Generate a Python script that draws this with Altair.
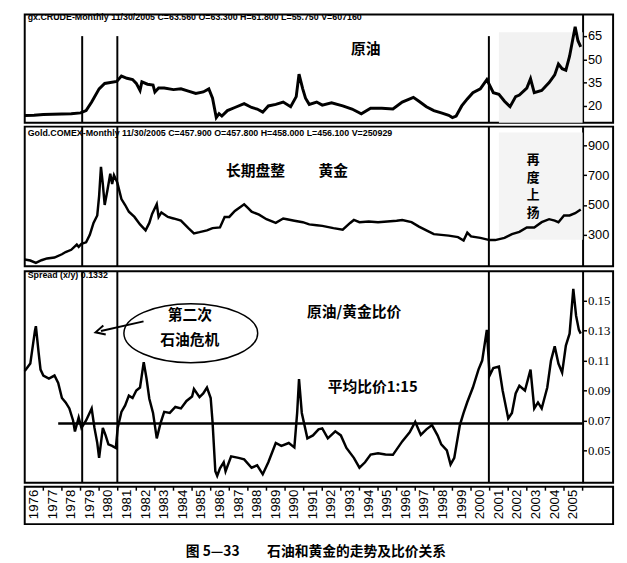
import altair as alt
import pandas as pd

# ---------------- data ----------------
oil_years = [1976.0, 1976.5, 1977.0, 1977.5, 1978.0, 1978.5, 1979.0, 1979.3, 1979.6, 1980.0,
             1980.3, 1980.95, 1981.2, 1981.5, 1981.8, 1982.0, 1982.2, 1982.3, 1982.6, 1982.9,
             1983.0, 1983.2, 1983.5, 1984.0, 1984.4, 1984.8, 1985.2, 1985.6, 1985.9, 1986.1,
             1986.3, 1986.45, 1986.6, 1986.9, 1987.3, 1987.8, 1988.2, 1988.5, 1988.8, 1989.1,
             1989.5, 1989.9, 1990.3, 1990.6, 1990.75, 1990.95, 1991.1, 1991.3, 1991.7, 1992.0,
             1992.5, 1993.1, 1993.6, 1994.1, 1994.6, 1995.2, 1995.8, 1996.3, 1996.9, 1997.2,
             1997.6, 1998.0, 1998.4, 1998.8, 1999.0, 1999.2, 1999.5, 1999.8, 2000.1, 2000.5,
             2000.85, 2001.2, 2001.5, 2001.8, 2002.1, 2002.4, 2002.6, 2003.0, 2003.2, 2003.4,
             2003.8, 2004.2, 2004.5, 2004.7, 2004.9, 2005.1, 2005.3, 2005.6, 2005.75, 2005.9]
oil_values = [13.8, 14.0, 14.5, 14.6, 14.8, 15.0, 15.5, 17.0, 22.5, 31.0,
              34.5, 35.8, 39.2, 37.8, 37.0, 34.5, 30.0, 35.5, 34.0, 33.5,
              28.9, 31.5, 31.5, 30.5, 31.0, 29.5, 28.0, 29.0, 31.0, 25.0,
              12.5, 15.0, 13.5, 17.0, 19.0, 21.5, 19.0, 18.0, 16.0, 20.0,
              21.0, 22.5, 19.5, 26.0, 40.5, 31.0, 25.0, 21.0, 22.5, 20.5,
              22.0, 20.0, 18.0, 15.0, 18.5, 18.5, 18.0, 22.5, 25.5, 23.0,
              19.5, 17.0, 15.5, 14.0, 12.5, 13.5, 20.0, 24.5, 28.5, 31.0,
              37.0, 28.5, 27.5, 23.0, 19.5, 26.0, 27.0, 31.5, 37.5, 28.5,
              30.0, 35.0, 40.0, 47.0, 44.0, 43.0, 52.0, 71.0, 62.0, 58.0]

gold_years = [1976.0, 1976.3, 1976.6, 1976.9, 1977.2, 1977.6, 1978.0, 1978.2, 1978.5, 1978.8,
              1978.9, 1979.05, 1979.3, 1979.5, 1979.7, 1979.9, 1980.0, 1980.1, 1980.2, 1980.3,
              1980.45, 1980.6, 1980.7, 1980.8, 1980.98, 1981.2, 1981.4, 1981.6, 1981.9, 1982.2,
              1982.5, 1982.7, 1982.85, 1983.1, 1983.2, 1983.35, 1983.7, 1984.0, 1984.4, 1984.8,
              1985.1, 1985.4, 1985.8, 1986.1, 1986.5, 1986.75, 1987.0, 1987.3, 1987.8, 1988.0,
              1988.2, 1988.6, 1989.0, 1989.5, 1989.9, 1990.1, 1990.5, 1990.95, 1991.3, 1991.7,
              1992.0, 1992.6, 1993.1, 1993.5, 1993.7, 1994.0, 1994.5, 1995.0, 1995.5, 1996.0,
              1996.3, 1996.8, 1997.2, 1997.6, 1998.0, 1998.4, 1998.8, 1999.3, 1999.6, 1999.8,
              2000.0, 2000.5, 2001.0, 2001.3, 2001.8, 2002.2, 2002.6, 2003.0, 2003.4, 2003.8,
              2004.2, 2004.5, 2004.7, 2005.0, 2005.3, 2005.6, 2005.9]
gold_values = [135, 128, 112, 130, 142, 148, 170, 185, 200, 235,
               220, 240, 250, 300, 380, 430, 560, 755, 640, 500,
               600, 710, 640, 700, 650, 540, 500, 455, 420, 370,
               330, 380, 440, 505, 420, 450, 420, 410, 395, 345,
               310, 318, 330, 345, 350, 420, 420, 460, 505, 480,
               455, 435, 405, 380, 410, 405, 395, 385, 370, 365,
               360, 345, 335, 380, 400, 385, 390, 385, 390, 395,
               400, 385, 355, 330, 305, 300, 295, 285, 262, 315,
               290, 280, 265, 265, 280, 305, 320, 350, 350, 385,
               405, 395, 385, 430, 430, 445, 470]

ratio_years = [1976.0, 1976.3, 1976.55, 1976.6, 1976.75, 1976.85, 1977.0, 1977.3, 1977.6, 1977.8,
               1978.0, 1978.2, 1978.4, 1978.6, 1978.7, 1978.9, 1979.05, 1979.3, 1979.6, 1979.75,
               1979.9, 1980.0, 1980.1, 1980.2, 1980.35, 1980.5, 1980.7, 1980.9, 1981.0, 1981.2,
               1981.4, 1981.6, 1981.8, 1982.0, 1982.2, 1982.4, 1982.55, 1982.7, 1982.9, 1983.1,
               1983.3, 1983.5, 1983.8, 1984.1, 1984.4, 1984.7, 1985.0, 1985.1, 1985.4, 1985.6,
               1985.8, 1986.0, 1986.1, 1986.25, 1986.35, 1986.5, 1986.7, 1986.8, 1987.1, 1987.5,
               1987.8, 1988.2, 1988.5, 1988.8, 1989.1, 1989.5, 1989.8, 1990.2, 1990.5, 1990.65,
               1990.75, 1990.9, 1991.2, 1991.5, 1991.8, 1992.0, 1992.3, 1992.7, 1993.0, 1993.3,
               1993.7, 1994.0, 1994.3, 1994.6, 1995.0, 1995.4, 1995.8, 1996.3, 1996.7, 1997.0,
               1997.3, 1997.6, 1997.9, 1998.2, 1998.4, 1998.7, 1998.9, 1999.1, 1999.4, 1999.6,
               1999.8, 2000.1, 2000.4, 2000.6, 2000.85, 2001.0, 2001.2, 2001.5, 2001.7, 2002.0,
               2002.2, 2002.4, 2002.6, 2002.9, 2003.2, 2003.4, 2003.6, 2003.8, 2004.1, 2004.3,
               2004.5, 2004.7, 2004.9, 2005.1, 2005.3, 2005.5, 2005.65, 2005.8, 2005.9]
ratio_values = [0.103, 0.108, 0.130, 0.133, 0.115, 0.104, 0.100, 0.098, 0.100, 0.095,
                0.085, 0.082, 0.078, 0.070, 0.0626, 0.072, 0.065, 0.070, 0.078, 0.065,
                0.055, 0.045, 0.055, 0.065, 0.060, 0.054, 0.053, 0.0516, 0.065, 0.0757,
                0.080, 0.0866, 0.085, 0.090, 0.092, 0.109, 0.098, 0.0845, 0.075, 0.058,
                0.068, 0.0757, 0.075, 0.079, 0.078, 0.083, 0.086, 0.091, 0.0856, 0.088,
                0.092, 0.085, 0.069, 0.036, 0.033, 0.038, 0.042, 0.036, 0.046, 0.045,
                0.044, 0.0384, 0.040, 0.034, 0.042, 0.0549, 0.053, 0.0549, 0.052, 0.075,
                0.0976, 0.075, 0.058, 0.060, 0.064, 0.0647, 0.058, 0.0627, 0.060, 0.0516,
                0.045, 0.0384, 0.042, 0.0472, 0.048, 0.0472, 0.047, 0.056, 0.062, 0.069,
                0.0603, 0.064, 0.0669, 0.060, 0.054, 0.050, 0.0406, 0.045, 0.0669, 0.075,
                0.0823, 0.092, 0.104, 0.110, 0.1305, 0.100, 0.105, 0.106, 0.090, 0.0713,
                0.075, 0.088, 0.0932, 0.090, 0.104, 0.078, 0.082, 0.078, 0.092, 0.110,
                0.1195, 0.108, 0.102, 0.120, 0.128, 0.158, 0.140, 0.1305, 0.128]

year_labels = list(range(1976, 2006))
label_text = [str(y) for y in year_labels]
event_years = [1979.09, 1980.98, 2000.96]
avg_ratio = 0.068
avg_ratio_span = [1977.8, 2006.0]

oil_ticks = [20, 35, 50, 65]
gold_ticks = [300, 500, 700, 900]
ratio_ticks = [0.05, 0.07, 0.09, 0.11, 0.13, 0.15]

header_oil = "gx.CRUDE-Monthly  11/30/2005  C=63.560  O=63.300  H=61.800  L=55.750  V=607160"
header_gold = "Gold.COMEX-Monthly  11/30/2005  C=457.900  O=457.800  H=458.000  L=456.100  V=250929"
header_ratio = "Spread (x/y)  0.1332"
caption = "图 5—33\u3000\u3000石油和黄金的走势及比价关系"

# ---------------- layout ----------------
W = 598
H1, H2, H3, H4 = 110, 142, 215, 38
X_DOMAIN = [1976.0, 2007.64]
CJK = "Noto Sans CJK SC"
NARROW = "Liberation Sans Narrow, Liberation Sans, Arial"

xs = alt.Scale(domain=X_DOMAIN, nice=False, zero=False)


def xenc(field="year"):
    return alt.X(f"{field}:Q", scale=xs, axis=None)


def yenc(domain, ticks, font, fmt=None, field="v"):
    ax = dict(orient="right", offset=-(W - 567), values=ticks, tickSize=4,
              tickColor="black", tickWidth=1.5, domain=True, domainColor="black",
              domainWidth=2, labelFont=font, labelFontSize=13, labelColor="black",
              labelPadding=1, grid=False, title=None, labelFlush=False)
    if fmt:
        ax["format"] = fmt
    return alt.Y(f"{field}:Q", scale=alt.Scale(domain=domain, nice=False, zero=False),
                 axis=alt.Axis(**ax))


def header(text, ypix):
    return alt.Chart(pd.DataFrame({"t": [text]})).mark_text(
        align="left", baseline="middle", font=NARROW, fontSize=9, fontWeight="bold",
        color="black").encode(x=alt.value(3), y=alt.value(ypix), text="t:N")


def event_rules(top, h):
    return alt.Chart(pd.DataFrame({"year": event_years})).mark_rule(
        color="black", strokeWidth=2).encode(x=xenc(), y=alt.value(top), y2=alt.value(h))


def notes(df, dom, ticks, font, fmt=None, size=15):
    return alt.Chart(df).mark_text(font=CJK, fontSize=size, fontWeight="bold",
                                   color="black").encode(
        x=xenc(), y=yenc(dom, ticks, font, fmt), text="t:N")


# ---- panel 1 : crude oil ----
OIL_DOM = [9.2, 78.9]
oil_df = pd.DataFrame({"year": oil_years, "v": oil_values})
shade1 = alt.Chart(pd.DataFrame({"year": [2001.5], "year2": [2006.0]})).mark_rect(
    color="#f2f2f2").encode(x=xenc(), x2="year2:Q", y=alt.value(18), y2=alt.value(H1))
oil_line = alt.Chart(oil_df).mark_line(color="black", strokeWidth=3).encode(
    x=xenc(), y=yenc(OIL_DOM, oil_ticks, NARROW))
oil_note = notes(pd.DataFrame({"year": [1994.34], "v": [56.8], "t": ["原油"]}),
                 OIL_DOM, oil_ticks, NARROW)
p1 = alt.layer(shade1, event_rules(22, H1), oil_line, oil_note,
               header(header_oil, 3)).properties(width=W, height=H1)

# ---- panel 2 : gold ----
GOLD_DOM = [89, 1025]
gold_df = pd.DataFrame({"year": gold_years, "v": gold_values})
shade2 = alt.Chart(pd.DataFrame({"year": [2001.5], "year2": [2006.0]})).mark_rect(
    color="#f4f4f4").encode(x=xenc(), x2="year2:Q", y=alt.value(6), y2=alt.value(115))
gold_line = alt.Chart(gold_df).mark_line(color="black", strokeWidth=2.5).encode(
    x=xenc(), y=yenc(GOLD_DOM, gold_ticks, NARROW))
gold_note = notes(pd.DataFrame({"year": [1988.41, 1992.59],
                                "v": [728.6, 728.6],
                                "t": ["长期盘整", "黄金"]}),
                  GOLD_DOM, gold_ticks, NARROW)
rise_note = notes(pd.DataFrame({"year": [2003.34] * 4,
                                "v": [801.0, 682.0, 564.0, 445.0],
                                "t": ["再", "度", "上", "扬"]}),
                  GOLD_DOM, gold_ticks, NARROW, size=13)
p2 = alt.layer(shade2, event_rules(0, H2), gold_line, gold_note, rise_note,
               header(header_gold, 7)).properties(width=W, height=H2)

# ---- panel 3 : oil / gold ratio ----
RATIO_DOM = [0.0283, 0.1697]
SERIF = "Liberation Serif, Times New Roman"
ratio_df = pd.DataFrame({"year": ratio_years, "v": ratio_values})
ratio_line = alt.Chart(ratio_df).mark_line(color="black", strokeWidth=2.5).encode(
    x=xenc(), y=yenc(RATIO_DOM, ratio_ticks, SERIF, ".2f"))
avg_rule = alt.Chart(pd.DataFrame({"year": [avg_ratio_span[0]], "year2": [avg_ratio_span[1]],
                                   "v": [avg_ratio]})).mark_rule(
    color="black", strokeWidth=2.5).encode(
    x=xenc(), x2="year2:Q", y=yenc(RATIO_DOM, ratio_ticks, SERIF, ".2f"))
ratio_note = notes(pd.DataFrame({"year": [1993.71, 1994.71, 1984.88, 1984.88],
                                 "v": [0.1421, 0.0921, 0.1401, 0.1237],
                                 "t": ["原油/黄金比价", "平均比价1:15", "第二次", "石油危机"]}),
                   RATIO_DOM, ratio_ticks, SERIF, ".2f")
ellipse = alt.Chart(pd.DataFrame({"year": [1984.93], "v": [0.1283]})).mark_point(
    shape="M-1,0A1,0.44 0 1,0 1,0A1,0.44 0 1,0 -1,0Z", size=18496, filled=False,
    color="black", strokeWidth=1.5, opacity=1).encode(
    x=xenc(), y=yenc(RATIO_DOM, ratio_ticks, SERIF, ".2f"))
arrow_line = alt.Chart(pd.DataFrame({"year": [1982.39, 1980.1], "v": [0.1362, 0.1298]})).mark_line(
    color="black", strokeWidth=2).encode(x=xenc(), y=yenc(RATIO_DOM, ratio_ticks, SERIF, ".2f"))
arrow_head = alt.Chart(pd.DataFrame({"year": [1980.05], "v": [0.1297]})).mark_point(
    shape="M1,-1L-1,0L1,1", size=90, filled=False, color="black", strokeWidth=2,
    opacity=1, angle=345).encode(x=xenc(), y=yenc(RATIO_DOM, ratio_ticks, SERIF, ".2f"))
p3 = alt.layer(event_rules(0, H3), avg_rule, ratio_line, ratio_note, ellipse,
               arrow_line, arrow_head, header(header_ratio, 4)).properties(width=W, height=H3)

# ---- panel 4 : year labels box ----
lab_df = pd.DataFrame({"year": [y + 0.5 for y in year_labels], "t": label_text})
tick_df = pd.DataFrame({"year": [y + 1.0 for y in year_labels]})
ticks = alt.Chart(tick_df).mark_rule(color="black", strokeWidth=1.5).encode(
    x=xenc(), y=alt.value(0), y2=alt.value(4))
labels = alt.Chart(lab_df).mark_text(
    angle=270, align="right", baseline="middle", font="Liberation Sans, Arial",
    fontSize=13.5, color="black").encode(x=xenc(), y=alt.value(3), text="t:N")
p4 = alt.layer(ticks, labels).properties(width=W, height=H4)

chart = alt.vconcat(
    p1, p2, p3, p4, spacing=0,
    title=alt.TitleParams(caption, orient="bottom", anchor="middle", font=CJK,
                          fontSize=14, fontWeight="bold", color="black", offset=20),
).properties(
    padding={"left": 10, "top": 0, "right": 5, "bottom": 5},
    background="white",
).configure_view(stroke="black", strokeWidth=2).configure_concat(spacing=0)

chart.save("out.html", embed_options={"renderer": "svg", "actions": False})
